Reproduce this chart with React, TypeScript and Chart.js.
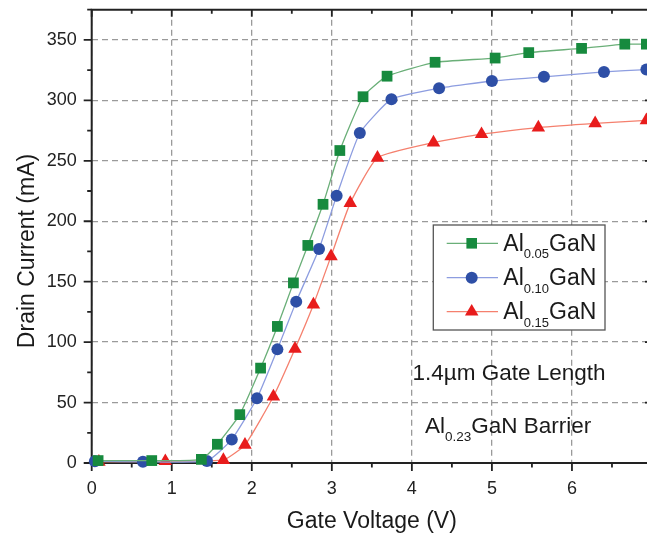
import React, { useEffect, useRef } from "react";
import { Chart, registerables } from "chart.js";

Chart.register(...registerables);

// ---- data ----
const greenV = [0.08, 0.75, 1.37, 1.57, 1.85, 2.11, 2.32, 2.52, 2.7, 2.89, 3.1, 3.39, 3.69, 4.29, 5.04, 5.46, 6.12, 6.66, 6.93];
const greenI = [2, 2, 3, 15.5, 40, 78.5, 113, 149, 180, 214, 258.5, 303, 320, 331.5, 335, 339.5, 343, 346.5, 346.5];

const blueV = [0.04, 0.64, 1.44, 1.75, 2.065, 2.32, 2.555, 2.84, 3.06, 3.35, 3.745, 4.34, 5.0, 5.65, 6.4, 6.93];
const blueI = [1.5, 1, 1.7, 19.5, 53.5, 94, 133.5, 177, 221, 273, 301, 310, 316, 319.5, 323.5, 325.5];

const redV = [0.09, 0.92, 1.645, 1.915, 2.27, 2.54, 2.77, 2.99, 3.23, 3.57, 4.27, 4.87, 5.58, 6.29, 6.93];
const redI = [1, 1.5, 2.5, 15, 55, 94.5, 131, 171, 215, 252.5, 265, 272, 277.5, 281, 283.5];

const seriesNames = ["0.05", "0.10", "0.15"];
const xTickValues = [0, 1, 2, 3, 4, 5, 6, 7];
const yTickValues = [0, 50, 100, 150, 200, 250, 300, 350];
const xMin = 0, xMax = 7, yMin = 0, yMax = 375;

const xTitle = "Gate Voltage (V)";
const yTitle = "Drain Current (mA)";
const note1 = "1.4µm Gate Length";
const note2Sub = "0.23";
const note2Rest = "GaN Barrier";

// ---- styling ----
const FONT = "Arial, 'Liberation Sans', sans-serif";
const CW = 672, CH = 535;
const AREA_LEFT = 91.7, AREA_TOP = 9.7, AREA_RIGHT = 652, AREA_BOTTOM = 463;

const COLORS = [
  { line: "#6aaf78", mark: "#178a3e", style: "rect", r: 7.6 },
  { line: "#8d9de0", mark: "#2e4fa6", style: "circle", r: 6 },
  { line: "#f5806e", mark: "#e81c1c", style: "triangle", r: 7.8 },
];

function drawMarker(ctx: CanvasRenderingContext2D, style: string, x: number, y: number, color: string) {
  ctx.fillStyle = color;
  ctx.beginPath();
  if (style === "rect") {
    ctx.rect(x - 5.3, y - 5.3, 10.6, 10.6);
  } else if (style === "circle") {
    ctx.arc(x, y, 6, 0, Math.PI * 2);
  } else {
    const r = 7.8;
    ctx.moveTo(x, y - r);
    ctx.lineTo(x + r * Math.sin((2 * Math.PI) / 3), y - r * Math.cos((2 * Math.PI) / 3));
    ctx.lineTo(x + r * Math.sin((4 * Math.PI) / 3), y - r * Math.cos((4 * Math.PI) / 3));
    ctx.closePath();
  }
  ctx.fill();
}

const framePlugin = {
  id: "frame",
  beforeDatasetsDraw(chart: any) {
    const { ctx, chartArea: a, scales } = chart;
    const xs = scales.x, ys = scales.y;
    ctx.save();
    ctx.strokeStyle = "#222";
    ctx.lineWidth = 2;
    ctx.beginPath();
    ctx.rect(a.left, a.top, a.right - a.left, a.bottom - a.top);
    ctx.stroke();
    ctx.lineWidth = 1.8;
    ctx.beginPath();
    for (let v = xMin; v <= xMax + 1e-9; v += 0.5) {
      const px = xs.getPixelForValue(v);
      const major = Math.abs(v - Math.round(v)) < 1e-6;
      ctx.moveTo(px, a.bottom);
      ctx.lineTo(px, a.bottom + (major ? 8 : 4.5));
      ctx.moveTo(px, a.top);
      ctx.lineTo(px, a.top + (major ? 7 : 4));
    }
    for (let v = yMin; v <= yMax + 1e-9; v += 25) {
      const py = ys.getPixelForValue(v);
      const major = v % 50 === 0;
      ctx.moveTo(a.left, py);
      ctx.lineTo(a.left - (major ? 8 : 4.5), py);
      ctx.moveTo(a.right, py);
      ctx.lineTo(a.right - (major ? 7 : 4), py);
    }
    ctx.stroke();
    ctx.restore();
  },
  afterDraw(chart: any) {
    const { ctx, chartArea: a } = chart;
    ctx.save();
    ctx.fillStyle = "#1a1a1a";
    // axis titles
    ctx.font = `23px ${FONT}`;
    ctx.textAlign = "center";
    ctx.textBaseline = "alphabetic";
    ctx.fillText(xTitle, (a.left + a.right) / 2, 528);
    ctx.save();
    ctx.translate(33.5, 251);
    ctx.rotate(-Math.PI / 2);
    ctx.fillText(yTitle, 0, 0);
    ctx.restore();

    // legend
    const bx = 433.3, by = 225, bw = 171.7, bh = 105;
    ctx.fillStyle = "#fff";
    ctx.fillRect(bx, by, bw, bh);
    ctx.strokeStyle = "#555";
    ctx.lineWidth = 1.3;
    ctx.strokeRect(bx, by, bw, bh);
    const rows = [243.3, 277.7, 311.7];
    ctx.textAlign = "left";
    for (let i = 0; i < 3; i++) {
      const c = COLORS[i];
      const yc = rows[i];
      ctx.strokeStyle = c.line;
      ctx.lineWidth = 1.3;
      ctx.beginPath();
      ctx.moveTo(446.7, yc);
      ctx.lineTo(498, yc);
      ctx.stroke();
      drawMarker(ctx, c.style, 471.7, yc, c.mark);
      ctx.fillStyle = "#1a1a1a";
      let x = 503.3;
      ctx.font = `23px ${FONT}`;
      ctx.fillText("Al", x, yc + 7.6);
      x += ctx.measureText("Al").width;
      ctx.font = `13px ${FONT}`;
      ctx.fillText(seriesNames[i], x, yc + 15);
      x += ctx.measureText(seriesNames[i]).width;
      ctx.font = `23px ${FONT}`;
      ctx.fillText("GaN", x, yc + 7.6);
    }

    // annotations
    ctx.fillStyle = "#1a1a1a";
    ctx.font = `22.5px ${FONT}`;
    ctx.textAlign = "center";
    ctx.fillText(note1, 509, 380);
    ctx.textAlign = "left";
    let x = 425;
    ctx.font = `22.5px ${FONT}`;
    ctx.fillText("Al", x, 433.3);
    x += ctx.measureText("Al").width;
    ctx.font = `13.5px ${FONT}`;
    ctx.fillText(note2Sub, x, 440.5);
    x += ctx.measureText(note2Sub).width;
    ctx.font = `22.5px ${FONT}`;
    ctx.fillText(note2Rest, x, 433.3);
    ctx.restore();
  },
};

function makeDataset(vs: number[], is: number[], i: number) {
  const c = COLORS[i];
  return {
    label: "Al" + seriesNames[i] + "GaN",
    data: vs.map((v, k) => ({ x: v, y: is[k] })),
    showLine: true,
    borderColor: c.line,
    borderWidth: 1.3,
    backgroundColor: c.mark,
    pointBackgroundColor: c.mark,
    pointBorderColor: c.mark,
    pointBorderWidth: 0,
    pointStyle: c.style,
    pointRadius: c.r,
    tension: 0.15,
    clip: false,
  };
}

export default function App() {
  const ref = useRef<HTMLCanvasElement | null>(null);
  useEffect(() => {
    if (!ref.current) return;
    const chart = new Chart(ref.current, {
      type: "scatter",
      data: {
        datasets: [
          makeDataset(greenV, greenI, 0),
          makeDataset(blueV, blueI, 1),
          makeDataset(redV, redI, 2),
        ] as any,
      },
      options: {
        animation: false,
        responsive: false,
        devicePixelRatio: 1,
        layout: { padding: { left: 0, top: AREA_TOP, right: CW - AREA_RIGHT, bottom: 0 } },
        plugins: { legend: { display: false }, tooltip: { enabled: false } },
        scales: {
          x: {
            type: "linear",
            min: xMin,
            max: xMax,
            afterBuildTicks: (s: any) => { s.ticks = xTickValues.map((v) => ({ value: v })); },
            afterFit: (s: any) => {
              s.height = CH - AREA_BOTTOM;
              s.paddingLeft = 0; s.paddingRight = 0; s.paddingTop = 0; s.paddingBottom = 0;
            },
            grid: { color: "#9a9a9a", lineWidth: 1.3, drawTicks: false },
            border: { display: false, dash: [6, 4] },
            ticks: { color: "#222", font: { family: FONT, size: 18 }, padding: 15, maxRotation: 0 },
          },
          y: {
            type: "linear",
            min: yMin,
            max: yMax,
            afterBuildTicks: (s: any) => { s.ticks = yTickValues.map((v) => ({ value: v })); },
            afterFit: (s: any) => {
              s.width = AREA_LEFT;
              s.paddingLeft = 0; s.paddingRight = 0; s.paddingTop = 0; s.paddingBottom = 0;
            },
            grid: { color: "#9a9a9a", lineWidth: 1.3, drawTicks: false },
            border: { display: false, dash: [6, 4] },
            ticks: { color: "#222", font: { family: FONT, size: 18 }, padding: 15 },
          },
        },
      } as any,
      plugins: [framePlugin],
    });
    return () => chart.destroy();
  }, []);
  return (
    <div style={{ position: "fixed", left: 0, top: 0, width: 647, height: 535, overflow: "hidden", background: "#fff" }}>
      <canvas ref={ref} width={CW} height={CH} style={{ width: CW, height: CH, display: "block" }} />
    </div>
  );
}
